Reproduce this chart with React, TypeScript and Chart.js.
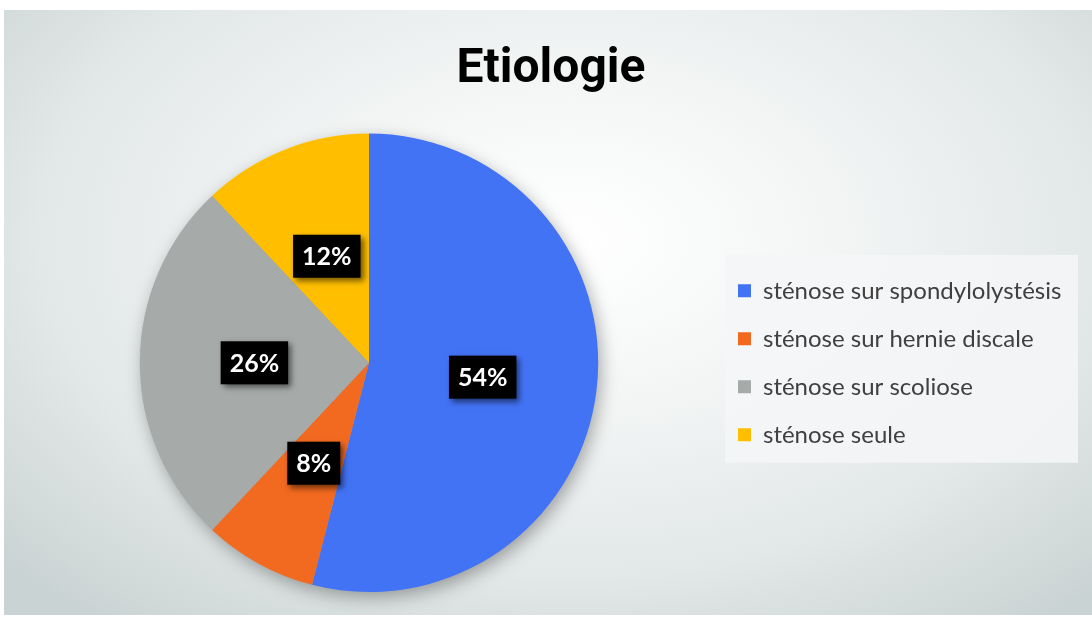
import React, { useEffect, useRef } from "react";
import { Chart, registerables } from "chart.js";

Chart.register(...registerables);

const categories = [
  "sténose sur spondylolystésis",
  "sténose sur hernie discale",
  "sténose sur scoliose",
  "sténose seule",
];
const values = [54, 8, 26, 12];
const sliceColors = ["#4373F5", "#F26A1F", "#A6AAA9", "#FFBF00"];
const titleText = "Etiologie";

const FONT = "Lato, 'Open Sans', sans-serif";
const TITLE_FONT = "Roboto, 'Open Sans', sans-serif";
const LEGEND_W = 364;

const legendWidthPlugin = {
  id: "legendWidth",
  afterInit(chart: any) {
    const lg = chart.legend;
    if (!lg) return;
    const orig = lg.fit.bind(lg);
    lg.fit = function () {
      orig();
      this.width = LEGEND_W;
    };
  },
};

const legendBgPlugin = {
  id: "legendBg",
  beforeDraw(chart: any) {
    const lg = chart.legend;
    if (!lg || !lg.legendHitBoxes || !lg.legendHitBoxes.length) return;
    const boxes = lg.legendHitBoxes;
    const top = Math.min(...boxes.map((b: any) => b.top));
    const bottom = Math.max(...boxes.map((b: any) => b.top + b.height));
    const ctx = chart.ctx;
    ctx.save();
    ctx.fillStyle = "rgba(244,246,247,0.85)";
    ctx.fillRect(lg.left + 11, top - 24, lg.right - lg.left - 11, bottom - top + 40);
    ctx.restore();
  },
};

const pieShadowPlugin = {
  id: "pieShadow",
  beforeDatasetsDraw(chart: any) {
    const meta = chart.getDatasetMeta(0);
    const arc = meta.data[0];
    if (!arc) return;
    const { x, y, outerRadius } = arc.getProps(["x", "y", "outerRadius"], true);
    const ctx = chart.ctx;
    ctx.save();
    ctx.shadowColor = "rgba(0,0,0,0.35)";
    ctx.shadowBlur = 18;
    ctx.shadowOffsetX = 3;
    ctx.shadowOffsetY = 6;
    ctx.fillStyle = "#a0a0a0";
    ctx.beginPath();
    ctx.arc(x, y, outerRadius - 1, 0, Math.PI * 2);
    ctx.fill();
    ctx.restore();
  },
};

const dataLabelPlugin = {
  id: "dataLabels",
  afterDatasetsDraw(chart: any) {
    const meta = chart.getDatasetMeta(0);
    const ctx = chart.ctx;
    const data = chart.data.datasets[0].data as number[];
    meta.data.forEach((arc: any, i: number) => {
      const p = arc.tooltipPosition(true);
      const text = `${data[i]}%`;
      ctx.save();
      ctx.font = `bold 25px ${FONT}`;
      const w = ctx.measureText(text).width + 18;
      const h = 43;
      ctx.shadowColor = "rgba(0,0,0,0.55)";
      ctx.shadowBlur = 6;
      ctx.shadowOffsetX = 3;
      ctx.shadowOffsetY = 3;
      ctx.fillStyle = "#000";
      ctx.fillRect(p.x - w / 2, p.y - h / 2, w, h);
      ctx.shadowColor = "rgba(0,0,0,0.6)";
      ctx.shadowBlur = 2;
      ctx.shadowOffsetX = 1;
      ctx.shadowOffsetY = 1;
      ctx.fillStyle = "#fff";
      ctx.textAlign = "center";
      ctx.textBaseline = "middle";
      ctx.fillText(text, p.x, p.y + 1);
      ctx.restore();
    });
  },
};

export default function App() {
  const canvasRef = useRef<HTMLCanvasElement | null>(null);

  useEffect(() => {
    if (!canvasRef.current) return;
    const chart = new Chart(canvasRef.current, {
      type: "pie",
      data: {
        labels: categories,
        datasets: [
          {
            data: values,
            backgroundColor: sliceColors,
            borderWidth: 0,
          },
        ],
      },
      options: {
        animation: false,
        responsive: true,
        maintainAspectRatio: false,
        layout: { padding: { left: 20, right: 14, top: 0, bottom: 23 } },
        plugins: {
          title: {
            display: true,
            text: titleText,
            color: "#000",
            font: { family: TITLE_FONT, size: 48, weight: "bold" },
            padding: { top: 31, bottom: 35 },
          },
          legend: {
            position: "right",
            align: "center",
            fullSize: false,
            labels: {
              boxWidth: 13,
              boxHeight: 13,
              padding: 24,
              color: "#404040",
              font: { family: FONT, size: 24 },
            },
          },
          tooltip: { enabled: false },
        },
      },
      plugins: [legendWidthPlugin, legendBgPlugin, pieShadowPlugin, dataLabelPlugin],
    });
    return () => chart.destroy();
  }, []);

  return (
    <div
      style={{
        position: "absolute",
        left: 4,
        top: 10,
        width: 1088,
        height: 605,
        background:
          "radial-gradient(ellipse 70% 80% at 52% 38%, #ffffff 0%, #f3f5f5 35%, #e2e7e7 70%, #cad3d3 100%)",
      }}
    >
      <canvas ref={canvasRef} />
    </div>
  );
}
